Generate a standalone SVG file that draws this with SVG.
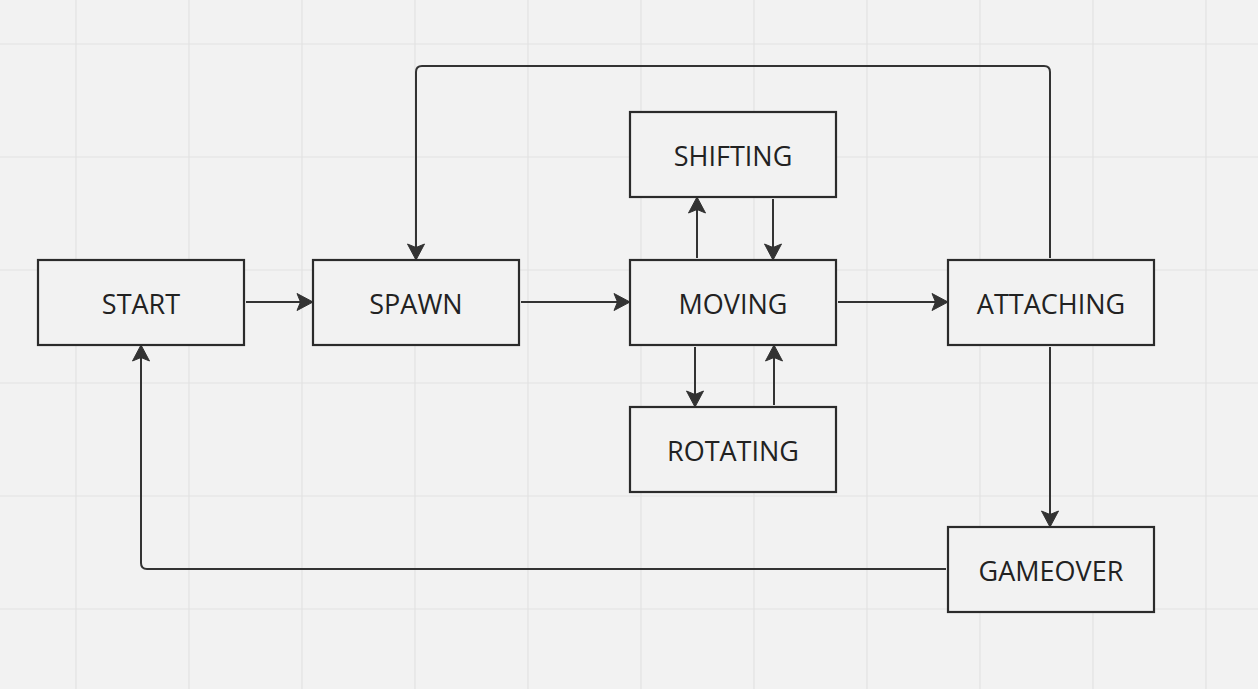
<svg xmlns="http://www.w3.org/2000/svg" width="1258" height="689" viewBox="0 0 1258 689">
<style>
.grid line{stroke:#e2e2e2;stroke-width:1.2}
.node rect{fill:#f2f2f2;stroke:#2b2b2b;stroke-width:2.2}
.node text{font-family:"Open Sans","Noto Sans",sans-serif;font-size:27px;fill:#222;text-anchor:middle}
.edges path{fill:none;stroke:#333;stroke-width:2;marker-end:url(#ah)}
</style>
<defs>
<marker id="ah" viewBox="0 0 18 18" refX="17" refY="9" markerWidth="18" markerHeight="18" markerUnits="userSpaceOnUse" orient="auto">
<path d="M1,0.5 L17,9 L1,17.5 L4.5,9 Z" fill="#333" stroke="#333" stroke-width="1" stroke-linejoin="round"/>
</marker>
</defs>
<rect width="1258" height="689" fill="#f2f2f2"/>
<g class="grid">
<line x1="76" y1="0" x2="76" y2="689"/><line x1="189" y1="0" x2="189" y2="689"/><line x1="302" y1="0" x2="302" y2="689"/><line x1="415" y1="0" x2="415" y2="689"/><line x1="528" y1="0" x2="528" y2="689"/><line x1="641" y1="0" x2="641" y2="689"/><line x1="754" y1="0" x2="754" y2="689"/><line x1="867" y1="0" x2="867" y2="689"/><line x1="980" y1="0" x2="980" y2="689"/><line x1="1093" y1="0" x2="1093" y2="689"/><line x1="1206" y1="0" x2="1206" y2="689"/>
<line x1="0" y1="44" x2="1258" y2="44"/><line x1="0" y1="157" x2="1258" y2="157"/><line x1="0" y1="270" x2="1258" y2="270"/><line x1="0" y1="383" x2="1258" y2="383"/><line x1="0" y1="496" x2="1258" y2="496"/><line x1="0" y1="609" x2="1258" y2="609"/>
</g>
<g class="edges">
<path d="M246,302 H313"/>
<path d="M521,302 H630"/>
<path d="M838,302 H948"/>
<path d="M697,258 V197"/>
<path d="M773,199 V260"/>
<path d="M695,347 V407"/>
<path d="M774,405 V345"/>
<path d="M1050,258 V72 Q1050,66 1044,66 H422 Q416,66 416,72 V260"/>
<path d="M1050,347 V527"/>
<path d="M946,569 H147 Q141,569 141,563 V345"/>
</g>
<g id="start" class="node"><rect x="38" y="260" width="206" height="85"/><text x="141" y="314">START</text></g>
<g id="spawn" class="node"><rect x="313" y="260" width="206" height="85"/><text x="416" y="314">SPAWN</text></g>
<g id="moving" class="node"><rect x="630" y="260" width="206" height="85"/><text x="733" y="314">MOVING</text></g>
<g id="shifting" class="node"><rect x="630" y="112" width="206" height="85"/><text x="733" y="166">SHIFTING</text></g>
<g id="rotating" class="node"><rect x="630" y="407" width="206" height="85"/><text x="733" y="461">ROTATING</text></g>
<g id="attaching" class="node"><rect x="948" y="260" width="206" height="85"/><text x="1051" y="314">ATTACHING</text></g>
<g id="gameover" class="node"><rect x="948" y="527" width="206" height="85"/><text x="1051" y="581">GAMEOVER</text></g>
</svg>
